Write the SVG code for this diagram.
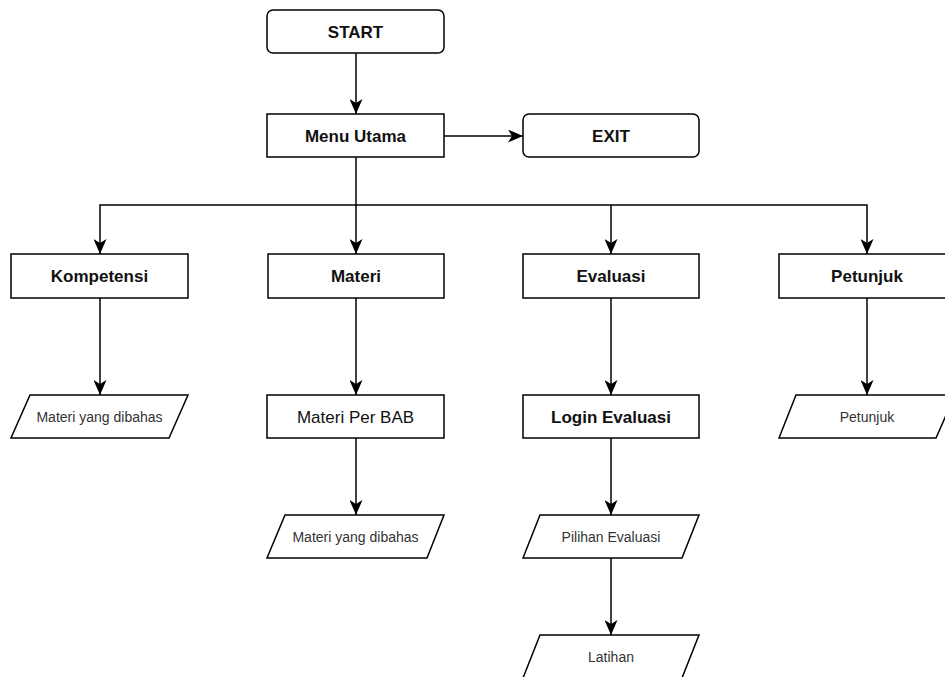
<svg xmlns="http://www.w3.org/2000/svg" width="945" height="677" viewBox="0 0 945 677">
<defs>
<marker id="arr" markerUnits="userSpaceOnUse" markerWidth="15" markerHeight="13" viewBox="0 0 15 13" refX="15" refY="6.5" orient="auto">
<path d="M0,0 L15,6.5 L0,13 L4,6.5 Z" fill="#000"/>
</marker>
<style>
.box{fill:#fff;stroke:#000;stroke-width:1.5}
.b{font-family:"Liberation Sans",Arial,sans-serif;font-weight:bold;font-size:17px;fill:#111;text-anchor:middle}
.r{font-family:"Liberation Sans",Arial,sans-serif;font-size:17px;fill:#111;text-anchor:middle}
.s{font-family:"Liberation Sans",Arial,sans-serif;font-size:14px;fill:#333;text-anchor:middle}
.c{fill:none;stroke:#000;stroke-width:1.5}
</style>
</defs>
<rect width="945" height="677" fill="#fff"/>
<g id="connectors">
<path class="c" d="M356,53 V114" marker-end="url(#arr)"/>
<path class="c" d="M444,136 H523" marker-end="url(#arr)"/>
<path class="c" d="M356,157 V254" marker-end="url(#arr)"/>
<path class="c" d="M356,205 H100 V254" marker-end="url(#arr)"/>
<path class="c" d="M356,205 H867 V254" marker-end="url(#arr)"/>
<path class="c" d="M611,205 V254" marker-end="url(#arr)"/>
<path class="c" d="M100,298 V395" marker-end="url(#arr)"/>
<path class="c" d="M356,298 V395" marker-end="url(#arr)"/>
<path class="c" d="M611,298 V395" marker-end="url(#arr)"/>
<path class="c" d="M867,298 V395" marker-end="url(#arr)"/>
<path class="c" d="M356,438 V515" marker-end="url(#arr)"/>
<path class="c" d="M611,438 V515" marker-end="url(#arr)"/>
<path class="c" d="M611,558 V635" marker-end="url(#arr)"/>
</g>
<g id="start"><rect class="box" x="267" y="10" width="177" height="43" rx="6"/><text class="b" x="355.5" y="37.5">START</text></g>
<g id="menu"><rect class="box" x="267" y="114" width="177" height="43"/><text class="b" x="355.5" y="141.5">Menu Utama</text></g>
<g id="exit"><rect class="box" x="523" y="114" width="176" height="43" rx="6"/><text class="b" x="611" y="141.5">EXIT</text></g>
<g id="kompetensi"><rect class="box" x="11" y="254" width="177" height="44"/><text class="b" x="99.5" y="282">Kompetensi</text></g>
<g id="materi"><rect class="box" x="268" y="254" width="176" height="44"/><text class="b" x="356" y="282">Materi</text></g>
<g id="evaluasi"><rect class="box" x="523" y="254" width="176" height="44"/><text class="b" x="611" y="282">Evaluasi</text></g>
<g id="petunjuk"><rect class="box" x="779" y="254" width="176" height="44"/><text class="b" x="867" y="282">Petunjuk</text></g>
<g id="kompetensi-materi"><polygon class="box" points="30,395 188,395 169,438 11,438"/><text class="s" x="99.5" y="421.5">Materi yang dibahas</text></g>
<g id="materi-per-bab"><rect class="box" x="267" y="395" width="177" height="43"/><text class="r" x="355.5" y="422.5">Materi Per BAB</text></g>
<g id="login-evaluasi"><rect class="box" x="523" y="395" width="176" height="43"/><text class="b" x="611" y="422.5">Login Evaluasi</text></g>
<g id="petunjuk-io"><polygon class="box" points="796,395 955,395 936,438 779,438"/><text class="s" x="867" y="421.5">Petunjuk</text></g>
<g id="materi-dibahas"><polygon class="box" points="285,515 444,515 427,558 267,558"/><text class="s" x="355.5" y="541.5">Materi yang dibahas</text></g>
<g id="pilihan-evaluasi"><polygon class="box" points="540,515 699,515 682,558 523,558"/><text class="s" x="611" y="541.5">Pilihan Evaluasi</text></g>
<g id="latihan"><polygon class="box" points="540,635 699,635 682,678 523,678"/><text class="s" x="611" y="661.5">Latihan</text></g>
</svg>
